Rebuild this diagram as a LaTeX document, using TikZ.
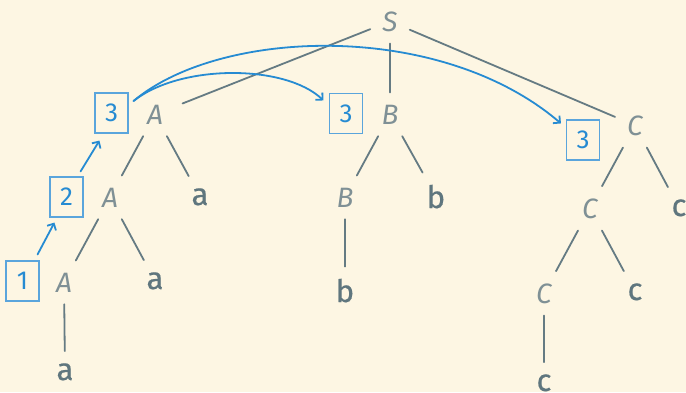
\documentclass[tikz,border=0pt]{standalone}
\usepackage{fontspec}
\setmainfont{Fira Sans}
\newfontfamily\ntfont{Fira Sans}
\newfontfamily\numfont{Fira Sans}
\newfontfamily\tfont{Fira Sans}[FakeBold=0.5]
\usetikzlibrary{arrows.meta}
\definecolor{bgcol}{HTML}{FDF6E3}
\definecolor{edgecol}{HTML}{657B83}
\definecolor{ntcol}{HTML}{7F9095}
\definecolor{tcol}{HTML}{5F767E}
\definecolor{bluecol}{HTML}{268BD2}
\definecolor{boxcol}{HTML}{5AA5DC}

\begin{document}
\begin{tikzpicture}[
  x=1pt,
  y=1pt,
  line cap=round,
  nt/.style={anchor=base, inner xsep=12pt, inner ysep=12pt, text=ntcol,
    font=\ntfont\itshape\fontsize{28}{30}\selectfont},
  term/.style={anchor=base, inner xsep=12pt, inner ysep=12pt, text=tcol,
    font=\tfont\fontsize{31}{34}\selectfont},
  numbox/.style={draw=boxcol, line width=1.1pt, minimum width=33pt,
    minimum height=40pt, inner sep=0pt, text=bluecol,
    font=\numfont\fontsize{26}{28}\selectfont},
  edge/.style={draw=edgecol, line width=1.8pt},
  jump/.style={-{Straight Barb[length=5pt, width=10pt]}, bluecol, line width=1.8pt},
]

% Hintergrund
\fill[bgcol] (0,0) rectangle (686,-392);
\useasboundingbox (0,0) rectangle (686,-392);

% Nichtterminale
\node[nt] (S)  at (390,-31)  {S};
\node[nt] (A1) at (155,-124) {A};
\node[nt] (B1) at (390,-124) {B};
\node[nt] (C1) at (635,-135) {C};
\node[nt] (A2) at (110,-207) {A};
\node[nt] (B2) at (345,-207) {B};
\node[nt] (C2) at (590,-218) {C};
\node[nt] (A3) at (64,-292)  {A};
\node[nt] (C3) at (544,-303) {C};

% Terminale
\node[term] (a1) at (200,-205) {a};
\node[term] (b1) at (436,-208) {b};
\node[term] (c1) at (679,-216) {c};
\node[term] (a2) at (155,-289) {a};
\node[term] (b2) at (345,-302) {b};
\node[term] (c2) at (635,-300) {c};
\node[term] (a3) at (65,-380)  {a};
\node[term] (c3) at (544,-391) {c};

% Kanten des Baums
\draw[edge, shorten >=8pt] (S) -- (A1);
\draw[edge] (S) -- (B1);
\draw[edge] (S) -- (C1);
\draw[edge] (A1) -- (A2);
\draw[edge] (A1) -- (a1);
\draw[edge] (A2) -- (A3);
\draw[edge] (A2) -- (a2);
\draw[edge] (A3) -- (a3);
\draw[edge] (B1) -- (B2);
\draw[edge] (B1) -- (b1);
\draw[edge] (B2) -- (b2);
\draw[edge] (C1) -- (C2);
\draw[edge] (C1) -- (c1);
\draw[edge] (C2) -- (C3);
\draw[edge] (C2) -- (c2);
\draw[edge] (C3) -- (c3);

% Zaehler-Kaestchen
\node[numbox] (n1)  at (22.5,-281) {1};
\node[numbox] (n2)  at (66.5,-197) {2};
\node[numbox] (n3a) at (111.5,-113) {3};
\node[numbox] (n3b) at (346,-113.5) {3};
\node[numbox] (n3c) at (583,-140) {3};

% Spruenge
\draw[jump] ([shift={(-2,6)}]n1.north east) -- ([shift={(5,-5)}]n2.south west);
\draw[jump] ([shift={(-3,5)}]n2.north east) -- ([shift={(5,-7)}]n3a.south west);
\draw[jump] ([shift={(5,12)}]n3a.east)
  .. controls (180,-64) and (285,-64) .. ([shift={(-5.5,-7.5)}]n3b.north west);
\draw[jump] ([shift={(5,12)}]n3a.east)
  .. controls (220,-28) and (440,-20) .. ([shift={(-5,-4)}]n3c.north west);

\end{tikzpicture}
\end{document}
